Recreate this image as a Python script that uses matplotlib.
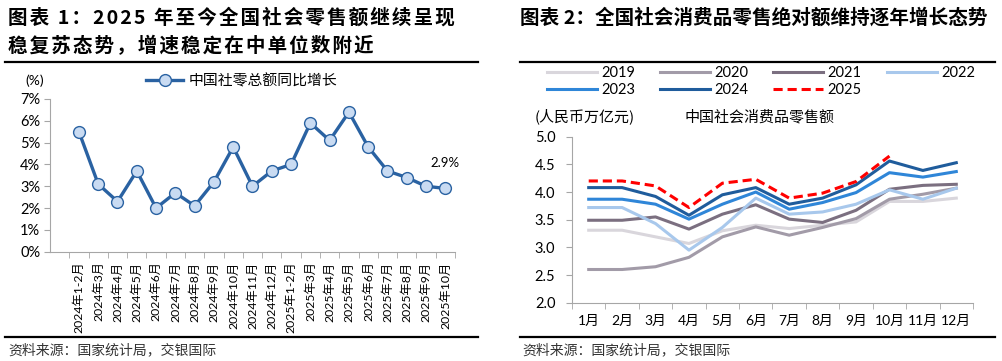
import matplotlib
matplotlib.use("Agg")
import matplotlib.pyplot as plt
from matplotlib.lines import Line2D

plt.rcParams['font.family'] = ['Noto Sans CJK SC', 'DejaVu Sans']

# left chart: retail sales yoy growth (%)
months_yoy = ['2024年1-2月', '2024年3月', '2024年4月', '2024年5月', '2024年6月',
              '2024年7月', '2024年8月', '2024年9月', '2024年10月', '2024年11月',
              '2024年12月', '2025年1-2月', '2025年3月', '2025年4月', '2025年5月',
              '2025年6月', '2025年7月', '2025年8月', '2025年9月', '2025年10月']
yoy = [5.5, 3.1, 2.3, 3.7, 2.0, 2.7, 2.1, 3.2, 4.8, 3.0,
       3.7, 4.0, 5.9, 5.1, 6.4, 4.8, 3.7, 3.4, 3.0, 2.9]

# right chart: monthly retail sales level (trillion RMB)
months = ['1月', '2月', '3月', '4月', '5月', '6月', '7月', '8月', '9月', '10月', '11月', '12月']
s2019 = [3.31, 3.31, 3.19, 3.07, 3.30, 3.40, 3.34, 3.40, 3.46, 3.83, 3.83, 3.89]
s2020 = [2.60, 2.60, 2.65, 2.82, 3.19, 3.37, 3.22, 3.36, 3.52, 3.87, 3.96, 4.07]
s2021 = [3.49, 3.49, 3.55, 3.33, 3.60, 3.77, 3.51, 3.45, 3.67, 4.05, 4.12, 4.14]
s2022 = [3.72, 3.72, 3.43, 2.95, 3.36, 3.89, 3.60, 3.64, 3.78, 4.04, 3.87, 4.07]
s2023 = [3.87, 3.87, 3.78, 3.51, 3.78, 4.00, 3.69, 3.81, 3.99, 4.35, 4.27, 4.37]
s2024 = [4.08, 4.08, 3.92, 3.58, 3.95, 4.08, 3.78, 3.89, 4.13, 4.56, 4.39, 4.53]
s2025 = [4.20, 4.20, 4.11, 3.72, 4.16, 4.23, 3.89, 3.98, 4.19, 4.65]

W, H = 1003, 361
fig = plt.figure(figsize=(W / 100, H / 100), dpi=100)

def px(x0, y0, x1, y1):
    # pixel box (top-left origin) -> figure fraction rect
    return [x0 / W, 1 - y1 / H, (x1 - x0) / W, (y1 - y0) / H]

def rule(x0, x1, y):
    fig.add_artist(Line2D([x0 / W, x1 / W], [1 - y / H, 1 - y / H],
                          color='black', lw=1.6, transform=fig.transFigure))

def spaced(s):
    # widen the title a bit, like the justified original
    return '\u200a'.join(s)

tick_font = ['Lato', 'Noto Sans CJK SC']
axis_gray = '#a6a6a6'

# titles
fig.text(8 / W, 1 - 18 / H, spaced('图表 1：2025 年至今全国社会零售额继续呈现'), fontsize=14.1,
         fontweight='bold', va='center', ha='left')
fig.text(8 / W, 1 - 46 / H, spaced('稳复苏态势，增速稳定在中单位数附近'), fontsize=14.1,
         fontweight='bold', va='center', ha='left')
fig.text(520 / W, 1 - 18 / H, '图表 2：全国社会消费品零售绝对额维持逐年增长态势', fontsize=14.1,
         fontweight='bold', va='center', ha='left')

rule(5, 478, 62)
rule(520, 995, 62)
rule(5, 478, 337)
rule(520, 995, 337)

fig.text(8 / W, 1 - 350 / H, '资料来源：国家统计局，交银国际', fontsize=10, color='#333333',
         va='center', ha='left', style='italic')
fig.text(522 / W, 1 - 350 / H, '资料来源：国家统计局，交银国际', fontsize=10, color='#333333',
         va='center', ha='left', style='italic')

# ---- left chart ----
ax1 = fig.add_axes(px(50, 99, 455, 251.7))
x = list(range(len(yoy)))
line_blue = '#2a62a2'
ax1.plot(x, yoy, color=line_blue, lw=2.4, marker='o', markersize=8.5,
         markerfacecolor='#c9dbf2', markeredgecolor=line_blue, markeredgewidth=1.0,
         label='中国社零总额同比增长', zorder=3)
ax1.set_xlim(-1.5, len(yoy) - 0.5)
ax1.set_ylim(0, 7)
ax1.set_yticks(range(0, 8))
ax1.set_yticklabels([f'{v}%' for v in range(0, 8)], fontsize=10.5, family=tick_font)
ax1.set_xticks(x)
ax1.set_xticklabels(months_yoy, rotation=90, fontsize=8.8, family=tick_font)
ax1.set_xticks([i - 0.5 for i in range(len(yoy) + 1)], minor=True)
ax1.tick_params(axis='x', which='major', length=0, pad=7)
ax1.tick_params(axis='x', which='minor', length=4, color=axis_gray, direction='out')
ax1.tick_params(axis='y', length=4, color=axis_gray, pad=3)
for s in ['top', 'right']:
    ax1.spines[s].set_visible(False)
for s in ['left', 'bottom']:
    ax1.spines[s].set_color(axis_gray)
ax1.annotate(f'{yoy[-1]}%', (x[-1], yoy[-1]), xytext=(0, 14), textcoords='offset points',
             ha='center', va='bottom', fontsize=9.5, family=tick_font)
fig.text(35 / W, 1 - 81 / H, '(%)', fontsize=10, family=tick_font, va='center', ha='center')
fig.legend(handles=ax1.get_lines(), loc='center left', bbox_to_anchor=(146 / W, 1 - 81 / H),
           frameon=False, fontsize=10.7, handlelength=2.5, handletextpad=0.4,
           borderpad=0, borderaxespad=0)

# ---- right chart ----
ax2 = fig.add_axes(px(572, 136.7, 973, 302.7))
xm = list(range(len(months)))
series = [
    ('2019', s2019, '#d9d6dc', '-'),
    ('2020', s2020, '#a29ba8', '-'),
    ('2021', s2021, '#7b6f80', '-'),
    ('2022', s2022, '#a8c8ec', '-'),
    ('2023', s2023, '#2f86d8', '-'),
    ('2024', s2024, '#1f5c9c', '-'),
    ('2025', s2025, '#ff0000', '--'),
]
handles = {}
for name, vals, col, ls in series:
    ln, = ax2.plot(xm[:len(vals)], vals, color=col, lw=2.2, ls=ls, label=name,
                   dashes=(3, 1.6) if ls == '--' else (None, None))
    handles[name] = ln
ax2.set_xlim(-0.5, len(months) - 0.5)
ax2.set_ylim(2.0, 5.0)
ax2.set_yticks([2.0, 2.5, 3.0, 3.5, 4.0, 4.5, 5.0])
ax2.set_yticklabels([f'{v:.1f}' for v in [2.0, 2.5, 3.0, 3.5, 4.0, 4.5, 5.0]],
                    fontsize=10.5, family=tick_font)
ax2.set_xticks(xm)
ax2.set_xticklabels(months, fontsize=10, family=tick_font)
ax2.set_xticks([i - 0.5 for i in range(len(months) + 1)], minor=True)
ax2.tick_params(axis='x', which='major', length=0, pad=9)
ax2.tick_params(axis='x', which='minor', length=4, color=axis_gray, direction='out')
ax2.tick_params(axis='y', length=4, color=axis_gray, pad=8)
for s in ['top', 'right']:
    ax2.spines[s].set_visible(False)
for s in ['left', 'bottom']:
    ax2.spines[s].set_color(axis_gray)

fig.text(535 / W, 1 - 116 / H, '(人民币万亿元)', fontsize=10.8, va='center', ha='left')
fig.text(684 / W, 1 - 117 / H, '中国社会消费品零售额', fontsize=10.8, va='center', ha='left')

# legend: one small legend per column so the columns sit where the original has them
legend_cols = [(547, ['2019', '2023']), (660, ['2020', '2024']),
               (773, ['2021', '2025']), (887, ['2022'])]
for xcol, names in legend_cols:
    fig.legend(handles=[handles[k] for k in names], labels=names,
               loc='upper left', bbox_to_anchor=(xcol / W, 1 - 66 / H), frameon=False,
               handlelength=3.4, handletextpad=0.35, labelspacing=0.22,
               borderpad=0, borderaxespad=0,
               prop={'family': tick_font, 'size': 10.5})

fig.savefig('out.png', dpi=100)
